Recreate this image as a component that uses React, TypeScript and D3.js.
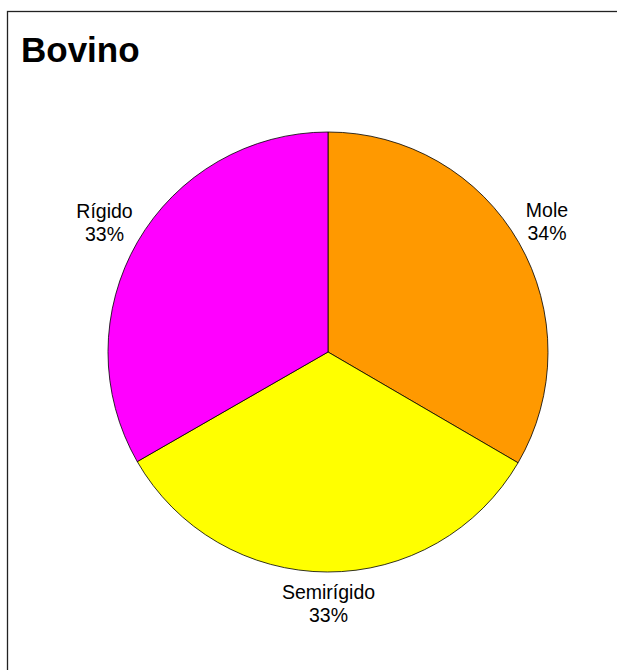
import React from "react";
import * as d3 from "d3";

const categories = ["Mole", "Semirígido", "Rígido"];
const values = [33.4, 33.3, 33.3];
const pctLabels = ["34%", "33%", "33%"];
const colors = ["#FF9900", "#FFFF00", "#FF00FF"];
const title = "Bovino";

export default function App() {
  const W = 617, H = 670;
  const cx = 328, cy = 352, r = 220;
  const pie = d3.pie<number>().sort(null).value((d) => d);
  const arcs = pie(values);
  const arc = d3.arc<d3.PieArcDatum<number>>().innerRadius(0).outerRadius(r);
  const labelPos = [
    { x: 547, y: 217 },
    { x: 328.5, y: 599 },
    { x: 104.5, y: 218 },
  ];
  return (
    <svg width={W} height={H} style={{ position: "absolute", left: 0, top: 0, fontFamily: "Liberation Sans, Arial, sans-serif" }}>
      <rect x={0} y={0} width={W} height={H} fill="#fff" />
      <rect x={7.5} y={11.5} width={W + 10} height={H + 10} fill="none" stroke="#222" strokeWidth={1.3} />
      <text x={21} y={62} fontSize={35} fontWeight="bold" fill="#000">{title}</text>
      <g transform={`translate(${cx},${cy})`}>
        {arcs.map((a, i) => (
          <path key={i} d={arc(a) || ""} fill={colors[i]} stroke="#000" strokeWidth={0.8} />
        ))}
      </g>
      {categories.map((c, i) => (
        <text key={c} x={labelPos[i].x} y={labelPos[i].y} textAnchor="middle" fontSize={19.5} fill="#000">
          <tspan x={labelPos[i].x} dy={0}>{c}</tspan>
          <tspan x={labelPos[i].x} dy={23}>{pctLabels[i]}</tspan>
        </text>
      ))}
    </svg>
  );
}
